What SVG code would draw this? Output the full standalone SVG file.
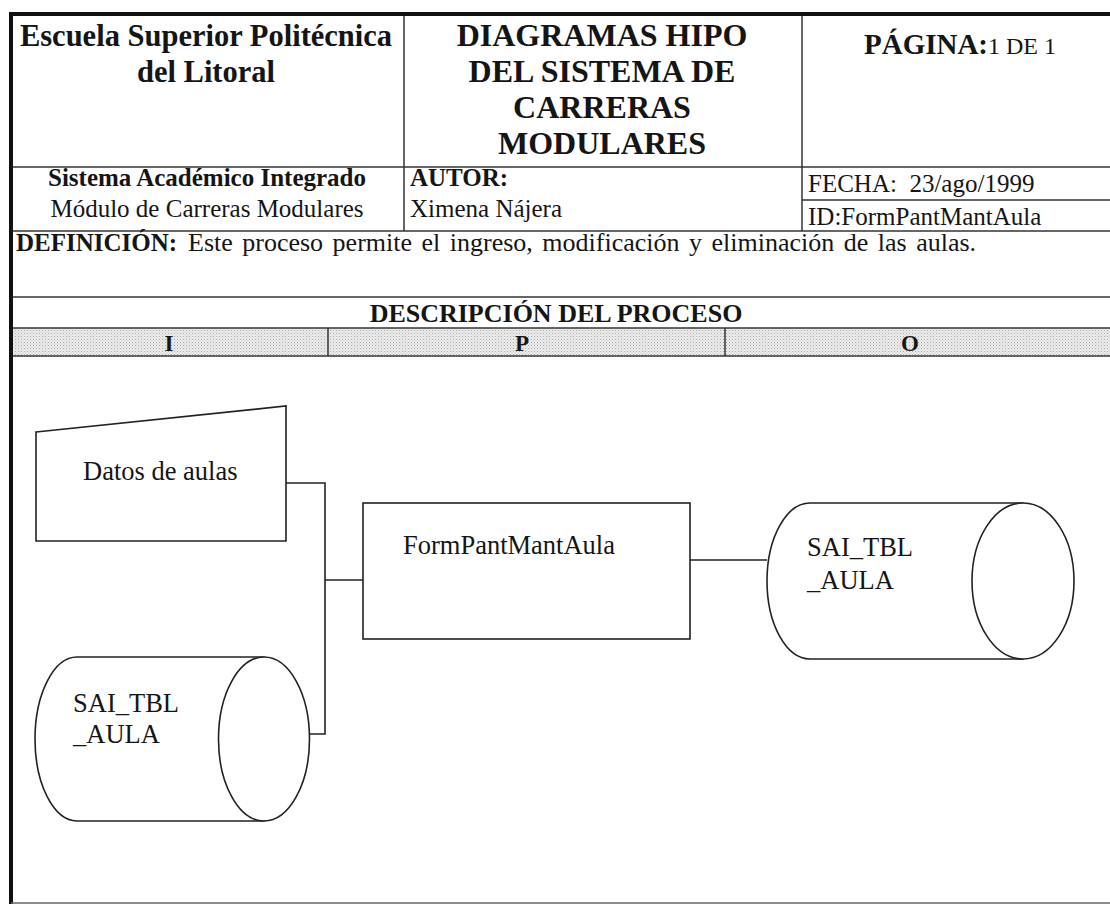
<svg xmlns="http://www.w3.org/2000/svg" width="1110" height="906" viewBox="0 0 1110 906">
  <defs>
    <pattern id="dots" width="3" height="3" patternUnits="userSpaceOnUse">
      <rect width="3" height="3" fill="#ededed"/>
      <rect x="0" y="0" width="1" height="1" fill="#a9a9a9"/>
      <rect x="1.5" y="1.5" width="1" height="1" fill="#c4c4c4"/>
    </pattern>
  </defs>
  <style>
    text { font-family: "Liberation Serif", "Times New Roman", serif; fill: #151515; }
    .b { font-weight: bold; }
    .h { font-size: 30.5px; font-weight: bold; }
    .h2 { font-size: 32px; font-weight: bold; }
    .t { font-size: 25px; }
    .d { font-size: 26.5px; }
    .grid { stroke: #333; stroke-width: 1.5; fill: none; }
    .shape { stroke: #222; stroke-width: 1.6; fill: #fff; }
    .conn { stroke: #222; stroke-width: 1.6; fill: none; }
  </style>
  <rect width="1110" height="906" fill="#fff"/>

  <g id="table">
    <rect x="13" y="328" width="1097" height="28" fill="url(#dots)"/>
    <line class="grid" x1="11" y1="167" x2="1110" y2="167"/>
    <line class="grid" x1="404" y1="14" x2="404" y2="231"/>
    <line class="grid" x1="802" y1="14" x2="802" y2="231"/>
    <line class="grid" x1="802" y1="200" x2="1110" y2="200"/>
    <line class="grid" x1="11" y1="231" x2="1110" y2="231"/>
    <line class="grid" x1="11" y1="297" x2="1110" y2="297"/>
    <line class="grid" x1="11" y1="328" x2="1110" y2="328"/>
    <line class="grid" x1="11" y1="356" x2="1110" y2="356"/>
    <line class="grid" x1="328" y1="328" x2="328" y2="356"/>
    <line class="grid" x1="725" y1="328" x2="725" y2="356"/>
    <line x1="9" y1="14" x2="1110" y2="14" stroke="#111" stroke-width="4"/>
    <line x1="11" y1="12" x2="11" y2="904" stroke="#111" stroke-width="4"/>
    <line x1="11" y1="903" x2="1110" y2="903" stroke="#666" stroke-width="1.5"/>

    <text class="h" x="206" y="46" text-anchor="middle">Escuela Superior Politécnica</text>
    <text class="h" x="206" y="82" text-anchor="middle">del Litoral</text>
    <text class="h2" x="602" y="46" text-anchor="middle">DIAGRAMAS HIPO</text>
    <text class="h2" x="602" y="82" text-anchor="middle">DEL SISTEMA DE</text>
    <text class="h2" x="602" y="118" text-anchor="middle">CARRERAS</text>
    <text class="h2" x="602" y="154" text-anchor="middle">MODULARES</text>
    <text x="960" y="54" text-anchor="middle"><tspan class="b" font-size="29">PÁGINA:</tspan><tspan font-size="24">1 DE 1</tspan></text>

    <text class="t b" x="207" y="186" text-anchor="middle">Sistema Académico Integrado</text>
    <text class="t" x="207" y="217" text-anchor="middle">Módulo de Carreras Modulares</text>
    <text class="t b" x="410" y="186">AUTOR:</text>
    <text class="t" x="410" y="217">Ximena Nájera</text>
    <text class="t" x="808" y="192" xml:space="preserve">FECHA:  23/ago/1999</text>
    <text class="t" x="808" y="225">ID:FormPantMantAula</text>

    <text class="t b" x="16" y="251">DEFINICIÓN:</text>
    <text font-size="26" x="188" y="251" word-spacing="3">Este proceso permite el ingreso, modificación y eliminación de las aulas.</text>
    <text class="b" font-size="26" x="556" y="322" text-anchor="middle">DESCRIPCIÓN DEL PROCESO</text>
    <text class="b" font-size="23" x="169" y="351" text-anchor="middle">I</text>
    <text class="b" font-size="23" x="522" y="351" text-anchor="middle">P</text>
    <text class="b" font-size="23" x="910" y="351" text-anchor="middle">O</text>
  </g>

  <g id="connectors">
    <polyline class="conn" points="286,483 325,483 325,734 305,734"/>
    <line class="conn" x1="325" y1="580" x2="363" y2="580"/>
    <line class="conn" x1="690" y1="560" x2="767" y2="560"/>
  </g>

  <g id="datos-aulas">
    <polygon class="shape" points="36,432 286,406 286,541 36,541"/>
    <text class="d" x="83" y="480">Datos de aulas</text>
  </g>

  <g id="form-pant-mant-aula">
    <rect class="shape" x="363" y="503" width="327" height="136"/>
    <text class="d" x="403" y="554">FormPantMantAula</text>
  </g>

  <g id="sai-tbl-aula-out">
    <path class="shape" d="M810,503 H1023 V659 H810 A43,78 0 0 1 810,503 Z"/>
    <ellipse class="shape" cx="1023" cy="581" rx="51" ry="78"/>
    <text class="d" x="807" y="556">SAI_TBL</text>
    <text class="d" x="807" y="589">_AULA</text>
  </g>

  <g id="sai-tbl-aula-in">
    <path class="shape" d="M77,657 H264 V821 H77 A42,82 0 0 1 77,657 Z"/>
    <ellipse class="shape" cx="264" cy="739" rx="45.5" ry="82"/>
    <text class="d" x="73" y="712">SAI_TBL</text>
    <text class="d" x="73" y="743">_AULA</text>
  </g>
</svg>
